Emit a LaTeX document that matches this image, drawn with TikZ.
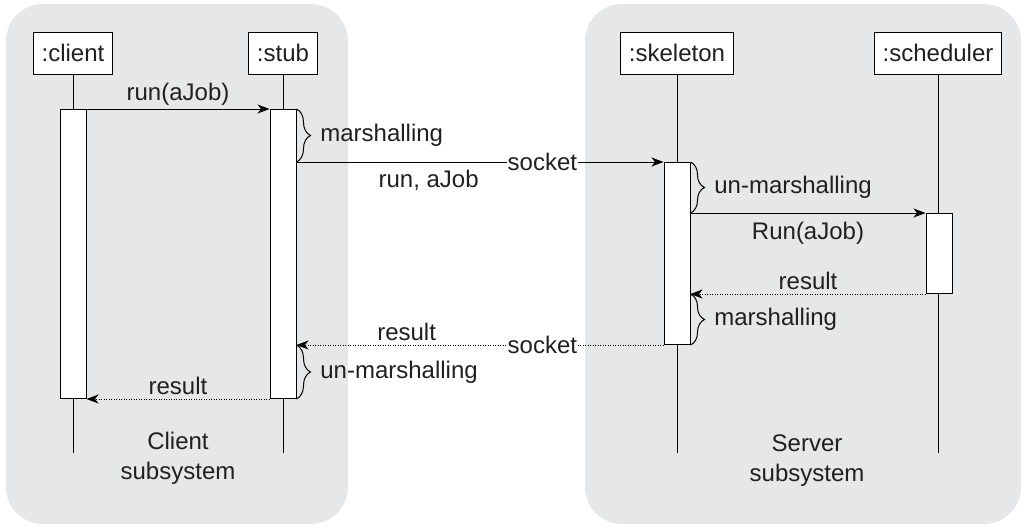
\documentclass[tikz,border=0pt]{standalone}
\usepackage{fontspec}
\setmainfont{Liberation Sans}
\usetikzlibrary{arrows.meta,decorations.pathreplacing}
\definecolor{panelgray}{HTML}{E6E7E8}
\definecolor{inkgray}{HTML}{231F20}

\begin{document}
\begin{tikzpicture}[x=1pt,y=-1pt,
    font=\fontsize{24}{30}\selectfont, text=inkgray,
    panel/.style={fill=panelgray, rounded corners=37pt},
    head/.style={draw, fill=white, line width=1pt, inner xsep=8.5pt, minimum height=42pt},
    act/.style={draw, fill=white, line width=1pt, minimum width=26pt, anchor=north},
    life/.style={line width=1pt},
    call/.style={-{Stealth[length=12pt,width=9pt,inset=3.5pt]}, line width=1pt},
    reply/.style={call, dash pattern=on 1pt off 1.5pt},
    grp/.style={decorate, decoration={brace, amplitude=14pt}, line width=1pt},
    tag/.style={right=20pt}]
    \useasboundingbox (0,0) rectangle (1024,528);
    % subsystems
    \fill[panel] (6,4) rectangle (348,524);
    \fill[panel] (585,4) rectangle (1021,524);
    \node[align=center] (clientSys) at (178,458) {Client\\subsystem};
    \node[align=center] (serverSys) at (807,461) {Server\\subsystem};
    % define objects
    \node[head] (client) at (73,53) {:client};
    \node[head] (stub) at (283,53) {:stub};
    \node[head] (skeleton) at (677,53) {:skeleton};
    \node[head] (scheduler) at (938,53) {:scheduler};
    \coordinate (bottom) at (0,453);
    % lifelines
    \draw[life] (client.south) -- (client.south |- bottom);
    \draw[life] (stub.south) -- (stub.south |- bottom);
    \draw[life] (skeleton.south) -- (skeleton.south |- bottom);
    \draw[life] (scheduler.south) -- (scheduler.south |- bottom);
    % activations
    \node[act, minimum height=289pt] (clientAct) at (73,109) {};
    \node[act, minimum height=289pt] (stubAct) at (283,109) {};
    \node[act, minimum height=182pt] (skelAct) at (677,162) {};
    \node[act, minimum height=80pt] (schedAct) at (939,213) {};
    % messages
    \draw[call] (clientAct.north east) -- node[above] {run(aJob)} (stubAct.north west);
    \draw[call] (stubAct.east |- skelAct.north) -- node[pos=0.67, fill=white, inner sep=1pt] {socket}
        node[pos=0.36, below=4pt] {run, aJob} (skelAct.north west);
    \draw[call] (skelAct.east |- schedAct.north) -- node[below=5pt] {Run(aJob)} (schedAct.north west);
    \draw[reply] (schedAct.south west) -- node[above] {result} (skelAct.east |- schedAct.south);
    \draw[reply] (skelAct.south west) -- node[pos=0.33, fill=white, inner sep=1pt] {socket}
        node[pos=0.7, above] {result} (stubAct.east |- skelAct.south);
    \draw[reply] (stubAct.south west) -- node[above] {result} (clientAct.south east);
    % braces
    \draw[grp] (stubAct.north east) -- node[tag] {marshalling} (stubAct.east |- skelAct.north);
    \draw[grp] (skelAct.north east) -- node[tag] {un-marshalling} (skelAct.east |- schedAct.north);
    \draw[grp] (skelAct.east |- schedAct.south) -- node[tag] {marshalling} (skelAct.south east);
    \draw[grp] (stubAct.east |- skelAct.south) -- node[tag] {un-marshalling} (stubAct.south east);
\end{tikzpicture}
\end{document}
